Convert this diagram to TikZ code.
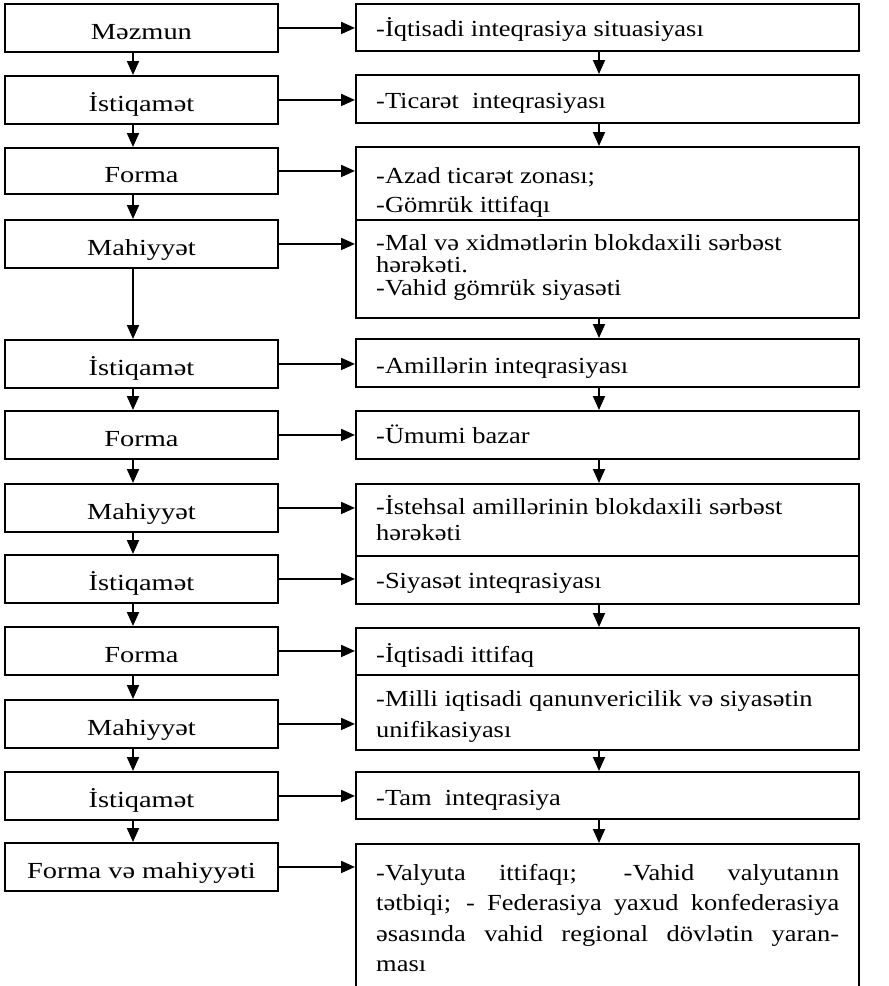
\documentclass[tikz,border=0pt]{standalone}
\usepackage{fontspec}
\setmainfont{Liberation Serif}[FakeStretch=1.15]
\newfontfamily\leftfont{Liberation Serif}[FakeStretch=1.235]
\usetikzlibrary{arrows.meta}
\tikzset{
  every picture/.style={x=1pt,y=-1pt},
  lbox/.style={draw, line width=1.9pt, anchor=north west, minimum width=273pt, inner sep=0pt,
     text height=24pt, text depth=0pt, font=\leftfont\fontsize{23}{25}\selectfont},
  rbox/.style={draw, line width=1.9pt, anchor=north west, minimum width=503pt, inner sep=0pt},
  rtext/.style={anchor=base west, inner sep=0pt, font=\fontsize{23}{25}\selectfont},
  arr/.style={line width=1.9pt, -{Triangle[length=14pt,width=12pt]}}
}
\begin{document}
\begin{tikzpicture}
\clip (0,0) rectangle (889,986);
\coordinate (lx) at (133,0);
\coordinate (rx) at (599,0);
% left column
\node[lbox, minimum height=48pt] (l1) at (4,3) {Məzmun};
\node[lbox, minimum height=48pt] (l2) at (4,75) {İstiqamət};
\node[lbox, minimum height=46pt] (l3) at (4,147) {Forma};
\node[lbox, minimum height=48pt] (l4) at (4,219) {Mahiyyət};
\node[lbox, minimum height=48pt] (l5) at (4,339) {İstiqamət};
\node[lbox, minimum height=48pt] (l6) at (4,410) {Forma};
\node[lbox, minimum height=48pt] (l7) at (4,483) {Mahiyyət};
\node[lbox, minimum height=48pt] (l8) at (4,554) {İstiqamət};
\node[lbox, minimum height=48pt] (l9) at (4,626) {Forma};
\node[lbox, minimum height=48pt] (l10) at (4,699) {Mahiyyət};
\node[lbox, minimum height=48pt] (l11) at (4,771) {İstiqamət};
\node[lbox, minimum height=48pt] (l12) at (4,842) {Forma və mahiyyəti};
% right column boxes
\node[rbox, minimum height=47pt] (r1) at (355,3) {};
\node[rbox, minimum height=48pt] (r2) at (355,74) {};
\node[rbox, minimum height=73pt] (r3) at (355,146) {};
\node[rbox, minimum height=98pt] (r4) at (355,219) {};
\node[rbox, minimum height=48pt] (r5) at (355,338) {};
\node[rbox, minimum height=48pt] (r6) at (355,410) {};
\node[rbox, minimum height=72pt] (r7) at (355,483) {};
\node[rbox, minimum height=48pt] (r8) at (355,555) {};
\node[rbox, minimum height=47pt] (r9) at (355,627) {};
\node[rbox, minimum height=75pt] (r10) at (355,674) {};
\node[rbox, minimum height=47pt] (r11) at (355,771) {};
\node[rbox, minimum height=160pt] (r12) at (355,843) {};
% right texts
\node[rtext] (t1) at (376,36) {-İqtisadi inteqrasiya situasiyası};
\node[rtext] (t2) at (376,108) {-Ticarət\ \ inteqrasiyası};
\node[rtext] (t3a) at (376,183) {-Azad ticarət zonası;};
\node[rtext] (t3b) at (376,212) {-Gömrük ittifaqı};
\node[rtext] (t4a) at (376,250) {-Mal və xidmətlərin blokdaxili sərbəst};
\node[rtext] (t4b) at (376,272.5) {hərəkəti.};
\node[rtext] (t4c) at (376,295) {-Vahid gömrük siyasəti};
\node[rtext] (t5) at (376,373) {-Amillərin inteqrasiyası};
\node[rtext] (t6) at (376,443) {-Ümumi bazar};
\node[rtext] (t7a) at (376,514) {-İstehsal amillərinin blokdaxili sərbəst};
\node[rtext] (t7b) at (376,540) {hərəkəti};
\node[rtext] (t8) at (376,588) {-Siyasət inteqrasiyası};
\node[rtext] (t9) at (376,662.5) {-İqtisadi ittifaq};
\node[rtext] (t10a) at (376,706) {-Milli iqtisadi qanunvericilik və siyasətin};
\node[rtext] (t10b) at (376,737) {unifikasiyası};
\node[rtext] (t11) at (376,805) {-Tam\ \ inteqrasiya};
\node[rtext] (t12a) at (376,880) {\makebox[463pt][s]{-Valyuta ittifaqı; -Vahid valyutanın}};
\node[rtext] (t12b) at (376,910.5) {\makebox[463pt][s]{tətbiqi; - Federasiya yaxud konfederasiya}};
\node[rtext] (t12c) at (376,941) {\makebox[463pt][s]{əsasında vahid regional dövlətin yaran-}};
\node[rtext] (t12d) at (376,971.5) {ması};
% horizontal arrows
\foreach \i in {1,...,12} {
  \draw[arr] (l\i.east) -- (l\i.east -| r\i.west);
}
% left vertical arrows
\foreach \a/\b in {1/2,2/3,3/4,4/5,5/6,6/7,7/8,8/9,9/10,10/11,11/12} {
  \draw[arr] (l\a.south -| lx) -- (l\b.north -| lx);
}
% right vertical arrows
\foreach \a/\b in {1/2,2/3,4/5,5/6,6/7,8/9,10/11,11/12} {
  \draw[arr] (r\a.south -| rx) -- (r\b.north -| rx);
}
\end{tikzpicture}
\end{document}
